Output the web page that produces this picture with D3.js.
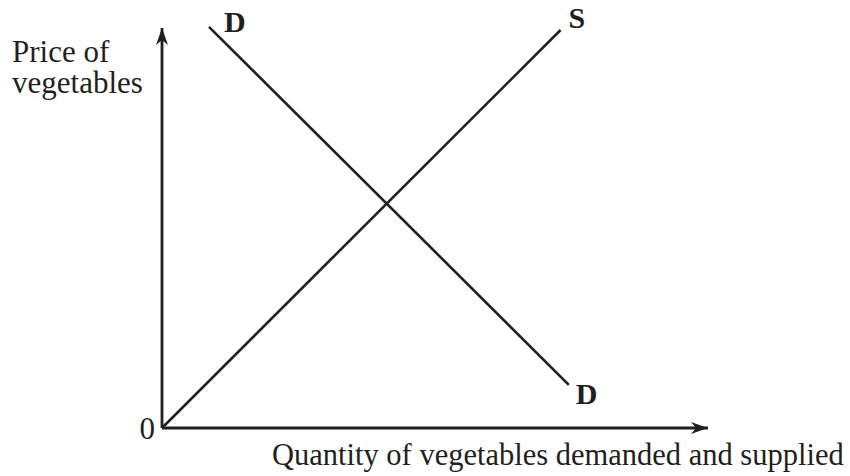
<!DOCTYPE html>
<html>
<head>
<meta charset="utf-8">
<script src="https://cdn.jsdelivr.net/npm/d3@7"></script>
<style>
  body { margin: 0; background: #fff; }
  text { font-family: "Liberation Serif", "Times New Roman", serif; fill: #231f20; }
</style>
</head>
<body>
<svg class="chart"></svg>
<script>
// DATA /////////////////////////////////////////
const supplyPoints = [[0, 0], [73, 99.5]];
const demandPoints = [[8.6, 100.3], [74.5, 10.8]];
const yAxisLabel = ["Price of", "vegetables"];
const xAxisLabel = "Quantity of vegetables demanded and supplied";
const originLabel = "0";
const curveLabels = ["D", "S", "D"];

// DEFINITIONS //////////////////////////////////
const width = 850;
const height = 476;
const origin = { x: 162, y: 428 };
const ink = "#231f20";

const svg = d3.select(".chart").attr("width", width).attr("height", height);

const x = d3.scaleLinear().domain([0, 100]).range([origin.x, 708]);
const y = d3.scaleLinear().domain([0, 100]).range([origin.y, 28]);

const line = d3.line().x((d) => x(d[0])).y((d) => y(d[1]));

// barbed arrow head
svg
  .append("defs")
  .append("marker")
  .attr("id", "arrow")
  .attr("markerUnits", "userSpaceOnUse")
  .attr("viewBox", "-18 -7 19 14")
  .attr("refX", 0)
  .attr("refY", 0)
  .attr("markerWidth", 19)
  .attr("markerHeight", 14)
  .attr("orient", "auto")
  .append("path")
  .attr("d", "M0,0 L-17,-6 L-12,0 L-17,6 Z")
  .style("fill", ink);

// AXES /////////////////////////////////////////
const axes = [
  [[0, 0], [0, 100]],
  [[0, 0], [100, 0]],
];

svg
  .selectAll(".axis")
  .data(axes)
  .enter()
  .append("path")
  .attr("class", "axis")
  .attr("d", (d) => line(d))
  .style("fill", "none")
  .style("stroke", ink)
  .style("stroke-width", 2.8)
  .attr("marker-end", "url(#arrow)");

// CURVES ///////////////////////////////////////
svg
  .selectAll(".curve")
  .data([supplyPoints, demandPoints])
  .enter()
  .append("path")
  .attr("class", "curve")
  .attr("d", (d) => line(d))
  .style("fill", "none")
  .style("stroke", ink)
  .style("stroke-width", 2.6);

// LABELS ///////////////////////////////////////
const labelAnchors = [
  { p: demandPoints[0], dx: 15, dy: 5 },
  { p: supplyPoints[1], dx: 8, dy: -2 },
  { p: demandPoints[1], dx: 7, dy: 19 },
];

svg
  .selectAll(".curveLabel")
  .data(curveLabels)
  .enter()
  .append("text")
  .attr("class", "curveLabel")
  .attr("x", (d, i) => x(labelAnchors[i].p[0]) + labelAnchors[i].dx)
  .attr("y", (d, i) => y(labelAnchors[i].p[1]) + labelAnchors[i].dy)
  .style("font-size", "30px")
  .style("font-weight", "bold")
  .text((d) => d);

svg
  .append("text")
  .attr("x", x(0) - 7)
  .attr("y", y(0) + 11)
  .style("text-anchor", "end")
  .style("font-size", "31px")
  .text(originLabel);

svg
  .selectAll(".yLabel")
  .data(yAxisLabel)
  .enter()
  .append("text")
  .attr("class", "yLabel")
  .attr("x", 12)
  .attr("y", (d, i) => 62 + i * 31)
  .style("font-size", "31px")
  .text((d) => d);

svg
  .append("text")
  .attr("x", 272)
  .attr("y", 465)
  .style("font-size", "30.5px")
  .text(xAxisLabel);
</script>
</body>
</html>
